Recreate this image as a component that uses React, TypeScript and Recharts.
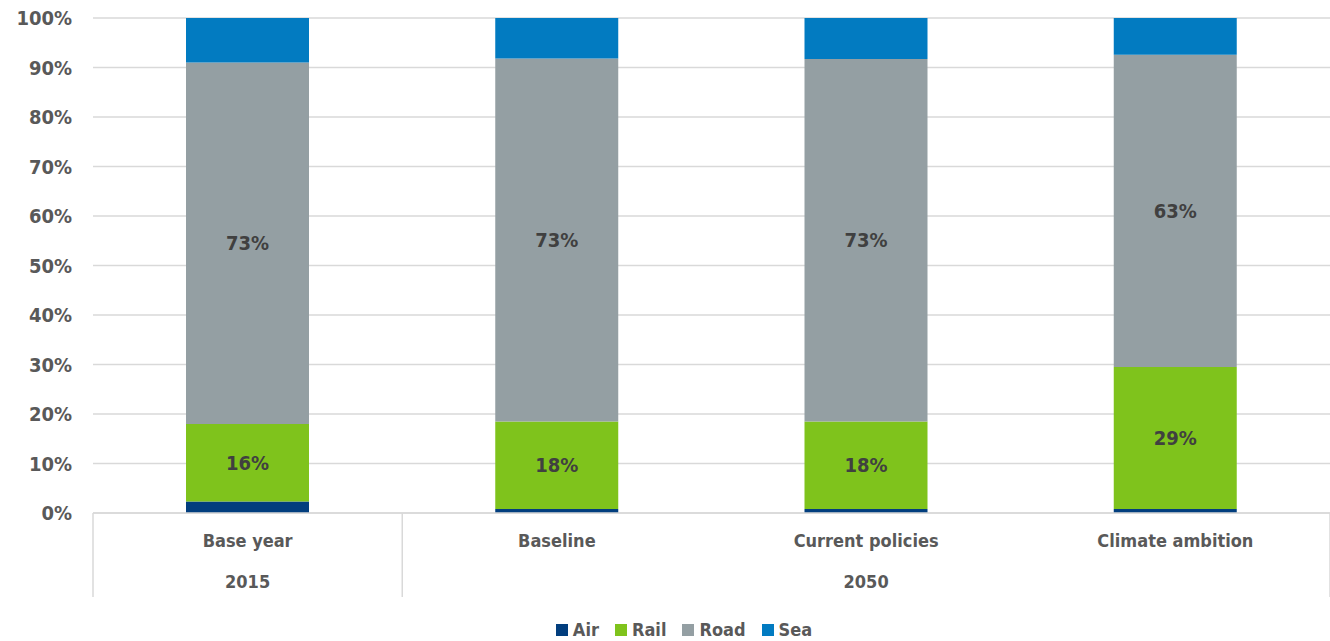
import { BarChart, Bar, XAxis, YAxis, CartesianGrid, Legend, LabelList } from 'recharts'

const categories = ['Base year', 'Baseline', 'Current policies', 'Climate ambition']
const groups = ['2015', '', '2050', '']
const air = [2.3, 0.8, 0.8, 0.8]
const rail = [15.7, 17.7, 17.7, 28.7]
const road = [73.0, 73.3, 73.2, 63.1]
const sea = [9.0, 8.2, 8.3, 7.4]
const yTicks = [0, 10, 20, 30, 40, 50, 60, 70, 80, 90, 100]

const FONT = '"Liberation Sans Narrow", "DejaVu Sans Condensed", "Arial Narrow", sans-serif'
const AXIS_TEXT = '#595959'
const LABEL_TEXT = '#404040'
const GRID = '#d9d9d9'

const data = categories.map((name, i) => ({
  name,
  group: groups[i],
  Air: air[i],
  Rail: rail[i],
  Road: road[i],
  Sea: sea[i],
}))

function CategoryTick(props: any) {
  const { x, y, payload, index, width } = props
  const step = width / categories.length
  const top = y - 6
  const bottom = top + 84
  const group = groups[index]
  return (
    <g>
      {index === 0 && <line x1={x - step / 2} x2={x - step / 2} y1={top} y2={bottom} stroke={GRID} strokeWidth={1.5} />}
      {(index === 0 || index === categories.length - 1) && (
        <line x1={x + step / 2} x2={x + step / 2} y1={top} y2={bottom} stroke={GRID} strokeWidth={1.5} />
      )}
      <text x={x} y={top + 34} textAnchor="middle" fill={AXIS_TEXT} fontFamily={FONT} fontWeight="bold" fontSize={18}>
        {payload.value}
      </text>
      {group && (
        <text x={x} y={top + 75} textAnchor="middle" fill={AXIS_TEXT} fontFamily={FONT} fontWeight="bold" fontSize={18}>
          {group}
        </text>
      )}
    </g>
  )
}

function LegendContent(props: any) {
  const { payload } = props
  return (
    <div style={{ display: 'flex', justifyContent: 'center', gap: 16, paddingLeft: 38 }}>
      {(payload || []).map((item: any) => (
        <div key={item.value} style={{ display: 'flex', alignItems: 'center', gap: 5 }}>
          <span style={{ width: 12, height: 12, background: item.color, display: 'inline-block' }} />
          <span style={{ color: AXIS_TEXT }}>{item.value}</span>
        </div>
      ))}
    </div>
  )
}

const labelStyle = { fill: LABEL_TEXT, fontFamily: FONT, fontWeight: 'bold', fontSize: 20 }

export default function App() {
  return (
    <div style={{ position: 'absolute', left: 0, top: 0, background: '#fff' }}>
      <BarChart width={1330} height={641} data={data} margin={{ top: 18, right: 0, left: 0, bottom: 0 }}>
        <CartesianGrid vertical={false} stroke={GRID} strokeWidth={1.5} />
        <XAxis
          dataKey="name"
          height={84}
          interval={0}
          tickLine={false}
          axisLine={{ stroke: GRID, strokeWidth: 1.5 }}
          tickMargin={0}
          tick={<CategoryTick />}
        />
        <YAxis
          width={93}
          domain={[0, 100]}
          ticks={yTicks}
          tickFormatter={(v: number) => `${v}%`}
          axisLine={false}
          tickLine={false}
          tickMargin={15}
          tick={{ fill: AXIS_TEXT, fontFamily: FONT, fontWeight: 'bold', fontSize: 20 }}
        />
        <Legend
          verticalAlign="bottom"
          height={44}
          content={<LegendContent />}
          wrapperStyle={{
            fontFamily: FONT,
            fontWeight: 'bold',
            fontSize: 18,
            height: 44,
            paddingTop: 22,
            boxSizing: 'border-box',
          }}
        />
        <Bar dataKey="Air" stackId="a" fill="#023e7e" barSize={123} isAnimationActive={false} />
        <Bar dataKey="Rail" stackId="a" fill="#7fc31c" barSize={123} isAnimationActive={false}>
          <LabelList dataKey="Rail" position="center" formatter={(v: number) => `${Math.round(v)}%`} style={labelStyle} />
        </Bar>
        <Bar dataKey="Road" stackId="a" fill="#949fa3" barSize={123} isAnimationActive={false}>
          <LabelList dataKey="Road" position="center" formatter={(v: number) => `${Math.round(v)}%`} style={labelStyle} />
        </Bar>
        <Bar dataKey="Sea" stackId="a" fill="#027bc1" barSize={123} isAnimationActive={false} />
      </BarChart>
    </div>
  )
}
